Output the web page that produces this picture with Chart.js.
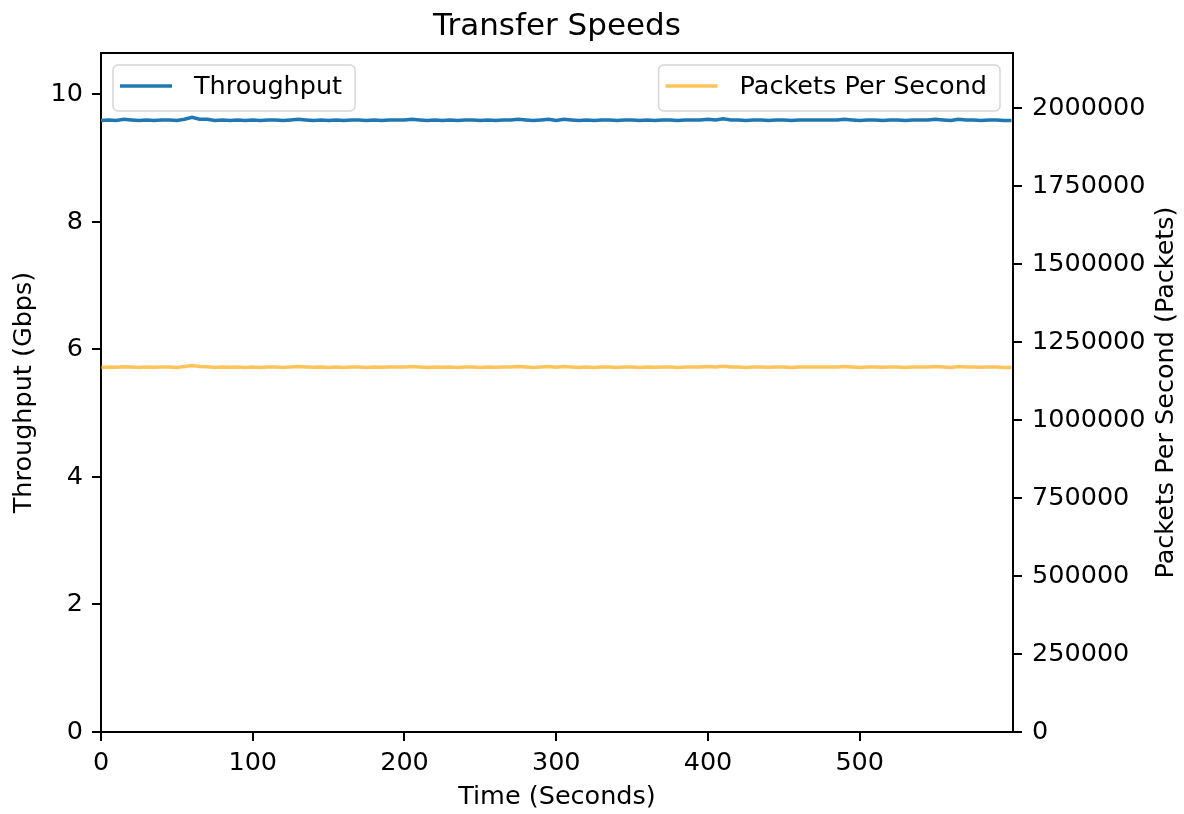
<!DOCTYPE html>
<html>
<head>
<meta charset="utf-8">
<script src="https://cdn.jsdelivr.net/npm/chart.js@4.4.1/dist/chart.umd.min.js"></script>
<style>
  body { margin: 0; background: #fff; }
</style>
</head>
<body>
<canvas id="speeds" width="1184" height="814"></canvas>
<script>
// seconds since start of the transfer
const times = [
  0, 5, 10, 15, 20, 25, 30, 35, 40, 45,
  50, 55, 60, 65, 70, 75, 80, 85, 90, 95,
  100, 105, 110, 115, 120, 125, 130, 135, 140, 145,
  150, 155, 160, 165, 170, 175, 180, 185, 190, 195,
  200, 205, 210, 215, 220, 225, 230, 235, 240, 245,
  250, 255, 260, 265, 270, 275, 280, 285, 290, 295,
  300, 305, 310, 315, 320, 325, 330, 335, 340, 345,
  350, 355, 360, 365, 370, 375, 380, 385, 390, 395,
  400, 405, 410, 415, 420, 425, 430, 435, 440, 445,
  450, 455, 460, 465, 470, 475, 480, 485, 490, 495,
  500, 505, 510, 515, 520, 525, 530, 535, 540, 545,
  550, 555, 560, 565, 570, 575, 580, 585, 590, 595,
  600
];

// Gbps
const throughput = [
  9.59, 9.60, 9.59, 9.61, 9.60, 9.59, 9.60, 9.59, 9.60, 9.60,
  9.59, 9.61, 9.64, 9.61, 9.61, 9.59, 9.60, 9.59, 9.60, 9.59,
  9.60, 9.59, 9.60, 9.60, 9.59, 9.60, 9.61, 9.60, 9.59, 9.60,
  9.59, 9.60, 9.59, 9.60, 9.60, 9.59, 9.60, 9.59, 9.60, 9.60,
  9.60, 9.61, 9.60, 9.59, 9.60, 9.59, 9.60, 9.59, 9.60, 9.60,
  9.59, 9.60, 9.59, 9.60, 9.60, 9.61, 9.60, 9.59, 9.60, 9.61,
  9.59, 9.61, 9.60, 9.59, 9.60, 9.59, 9.60, 9.60, 9.59, 9.60,
  9.60, 9.59, 9.60, 9.59, 9.60, 9.60, 9.59, 9.60, 9.60, 9.60,
  9.61, 9.60, 9.62, 9.60, 9.60, 9.59, 9.60, 9.60, 9.59, 9.60,
  9.60, 9.59, 9.60, 9.60, 9.60, 9.60, 9.60, 9.60, 9.61, 9.60,
  9.59, 9.60, 9.60, 9.59, 9.60, 9.60, 9.59, 9.60, 9.60, 9.60,
  9.61, 9.60, 9.59, 9.61, 9.60, 9.60, 9.59, 9.60, 9.60, 9.59,
  9.59
];

// packets per second
const packets = [
  1169000, 1170200, 1169100, 1171400, 1170200, 1169000, 1170300, 1169100, 1170200, 1170100,
  1169000, 1171600, 1175000, 1171700, 1171400, 1169000, 1170200, 1169100, 1170200, 1169000,
  1170200, 1169000, 1170300, 1170200, 1169000, 1170200, 1171600, 1170200, 1169100, 1170200,
  1169000, 1170200, 1169000, 1170300, 1170200, 1169000, 1170200, 1169100, 1170200, 1170200,
  1170400, 1171600, 1170200, 1169000, 1170200, 1169100, 1170200, 1169000, 1170300, 1170200,
  1169000, 1170200, 1169100, 1170200, 1170400, 1171600, 1170500, 1169000, 1170200, 1171600,
  1169100, 1171600, 1170200, 1169000, 1170200, 1169000, 1170200, 1170300, 1169000, 1170400,
  1170200, 1169000, 1170200, 1169100, 1170200, 1170200, 1169000, 1170300, 1170200, 1170400,
  1171600, 1170400, 1172800, 1170500, 1170200, 1169000, 1170200, 1170200, 1169100, 1170200,
  1170200, 1169000, 1170200, 1170300, 1170400, 1170200, 1170200, 1170400, 1171600, 1170200,
  1169000, 1170200, 1170200, 1169100, 1170200, 1170300, 1169000, 1170200, 1170200, 1170400,
  1171500, 1170200, 1169000, 1171600, 1170200, 1170200, 1169100, 1170200, 1170200, 1169000,
  1169000
];

const timeTicks = [0, 100, 200, 300, 400, 500];
const gbpsTicks = [0, 2, 4, 6, 8, 10];
const ppsTicks = [0, 250000, 500000, 750000, 1000000, 1250000, 1500000, 1750000, 2000000];

const FONT = 'DejaVu Sans';
const blue = '#1f77b4';
const orange = 'rgba(255,165,0,0.65)';

function drawLegendBox(ctx, x, y, color, label, alignRight) {
  ctx.font = '25.5px "' + FONT + '"';
  const w = ctx.measureText(label).width + 94;
  const h = 46;
  if (alignRight) x = x - w;
  ctx.beginPath();
  ctx.roundRect(x, y, w, h, 5);
  ctx.fillStyle = 'rgba(255,255,255,0.8)';
  ctx.fill();
  ctx.strokeStyle = '#d6d6d6';
  ctx.lineWidth = 1.5;
  ctx.stroke();

  ctx.beginPath();
  ctx.moveTo(x + 7, y + 21);
  ctx.lineTo(x + 59, y + 21);
  ctx.strokeStyle = color;
  ctx.lineWidth = 3.5;
  ctx.stroke();

  ctx.fillStyle = '#000';
  ctx.textAlign = 'left';
  ctx.textBaseline = 'middle';
  ctx.fillText(label, x + 81, y + 22);
}

const frameAndLegends = {
  id: 'frameAndLegends',
  afterDraw(chart) {
    const ctx = chart.ctx;
    const a = chart.chartArea;
    ctx.save();
    ctx.strokeStyle = '#000';
    ctx.lineWidth = 2;
    ctx.beginPath();
    ctx.moveTo(a.left, a.top);
    ctx.lineTo(a.right, a.top);
    ctx.stroke();

    // title is centred over the plot area, not the whole canvas
    ctx.font = '31px "' + FONT + '"';
    ctx.fillStyle = '#000';
    ctx.textAlign = 'center';
    ctx.textBaseline = 'middle';
    ctx.fillText('Transfer Speeds', (a.left + a.right) / 2, 27);

    drawLegendBox(ctx, a.left + 12, a.top + 12, blue, 'Throughput', false);
    drawLegendBox(ctx, a.right - 13, a.top + 12, orange, 'Packets Per Second', true);

    // right axis title reads bottom-to-top like the left one
    ctx.translate(chart.width - 18, (a.top + a.bottom) / 2);
    ctx.rotate(-Math.PI / 2);
    ctx.font = '25.5px "' + FONT + '"';
    ctx.fillStyle = '#000';
    ctx.textAlign = 'center';
    ctx.textBaseline = 'middle';
    ctx.fillText('Packets Per Second (Packets)', 0, 0);
    ctx.restore();
  }
};

const tickFont = { family: FONT, size: 25.5 };
const tickGrid = { display: true, drawOnChartArea: false, drawTicks: true, tickLength: 9, color: '#000', lineWidth: 2 };
const axisBorder = { display: true, color: '#000', width: 2 };

new Chart(document.getElementById('speeds'), {
  type: 'line',
  data: {
    datasets: [
      {
        label: 'Throughput',
        data: times.map((t, i) => ({ x: t, y: throughput[i] })),
        borderColor: blue,
        borderWidth: 3.5,
        pointRadius: 0,
        tension: 0,
        yAxisID: 'y'
      },
      {
        label: 'Packets Per Second',
        data: times.map((t, i) => ({ x: t, y: packets[i] })),
        borderColor: orange,
        borderWidth: 3.5,
        pointRadius: 0,
        tension: 0,
        yAxisID: 'y1'
      }
    ]
  },
  options: {
    responsive: false,
    animation: false,
    events: [],
    layout: { padding: { top: 53 } },
    plugins: {
      legend: { display: false },
      tooltip: { enabled: false },
      title: { display: false }
    },
    scales: {
      x: {
        type: 'linear',
        position: 'bottom',
        min: 0,
        max: 601,
        afterFit: s => { s.height = 82; },
        afterBuildTicks: s => { s.ticks = timeTicks.map(v => ({ value: v })); },
        ticks: { color: '#000', font: tickFont, padding: 7, maxRotation: 0, callback: v => String(v) },
        grid: tickGrid,
        border: axisBorder,
        title: { display: true, text: 'Time (Seconds)', color: '#000', font: tickFont, padding: { top: 0, bottom: 1 } }
      },
      y: {
        type: 'linear',
        position: 'left',
        min: 0,
        max: 10.65,
        afterFit: s => { s.width = 101; },
        afterBuildTicks: s => { s.ticks = gbpsTicks.map(v => ({ value: v })); },
        ticks: { color: '#000', font: tickFont, padding: 9, callback: v => String(v) },
        grid: tickGrid,
        border: axisBorder,
        title: { display: true, text: 'Throughput (Gbps)', color: '#000', font: tickFont, padding: { top: 9, bottom: 0 } }
      },
      y1: {
        type: 'linear',
        position: 'right',
        min: 0,
        max: 2177000,
        afterFit: s => { s.width = 171; },
        afterBuildTicks: s => { s.ticks = ppsTicks.map(v => ({ value: v })); },
        ticks: { color: '#000', font: tickFont, padding: 10, callback: v => String(v) },
        grid: tickGrid,
        border: axisBorder
      }
    }
  },
  plugins: [frameAndLegends]
});
</script>
</body>
</html>
